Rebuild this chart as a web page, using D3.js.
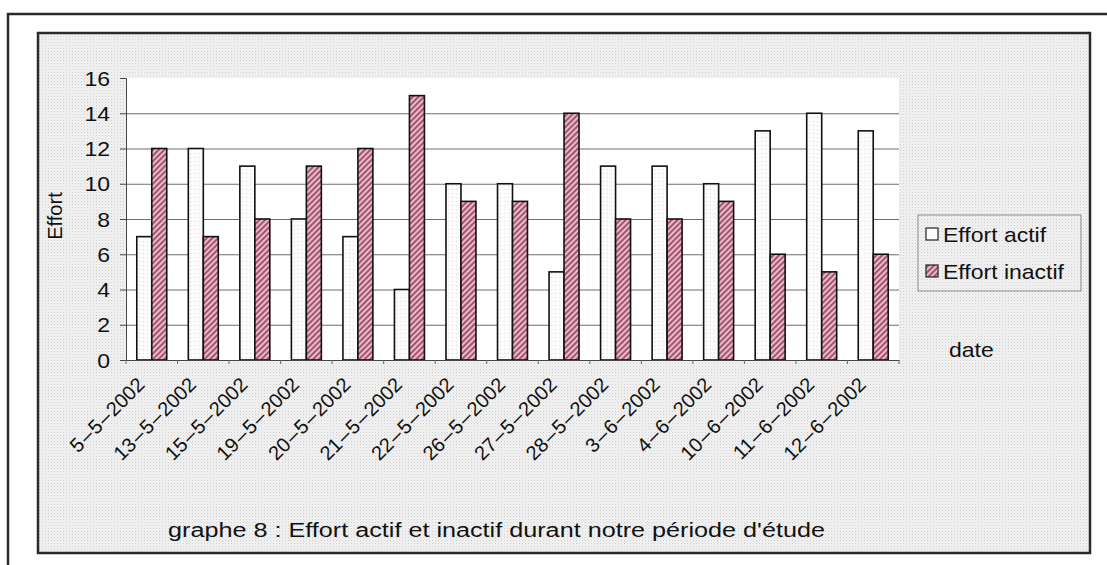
<!DOCTYPE html>
<html><head><meta charset="utf-8">
<script src="https://cdn.jsdelivr.net/npm/d3@7"></script>
<style>
html,body{margin:0;padding:0;background:#fff;}
svg{display:block;}
text{font-family:"Liberation Sans",Arial,sans-serif;fill:#111;}
</style></head>
<body>
<svg id="c" width="1107" height="565"></svg>
<script>
const categories = ["5 – 5 – 2002","13 – 5 – 2002","15 – 5 – 2002","19 – 5 – 2002","20 – 5 – 2002","21 – 5 – 2002","22 – 5 – 2002","26 – 5 – 2002","27 – 5 – 2002","28 – 5 – 2002","3 – 6 – 2002","4 – 6 – 2002","10 – 6 – 2002","11 – 6 – 2002","12 – 6 – 2002"];
const effortActif   = [7,12,11,8,7,4,10,10,5,11,11,10,13,14,13];
const effortInactif = [12,7,8,11,12,15,9,9,14,8,8,9,6,5,6];
const seriesNames = ["Effort actif","Effort inactif"];
const yTicks = [0,2,4,6,8,10,12,14,16];
const title = "graphe 8 : Effort actif et inactif durant notre période d'étude";
const yTitle = "Effort";
const xTitle = "date";

const SX = 1.15; // horizontal stretch of the scanned text
const svg = d3.select("#c");
const defs = svg.append("defs");

// background dotted texture
const bg = defs.append("pattern").attr("id","bgdots").attr("patternUnits","userSpaceOnUse").attr("width",3).attr("height",3);
bg.append("rect").attr("width",3).attr("height",3).attr("fill","#f2f2f2");
bg.append("rect").attr("x",0).attr("y",0).attr("width",1).attr("height",1).attr("fill","#cfcfcf");
bg.append("rect").attr("x",1.5).attr("y",1.5).attr("width",1).attr("height",1).attr("fill","#dedede");

// white bar texture (faint dots)
const wp = defs.append("pattern").attr("id","whitefill").attr("patternUnits","userSpaceOnUse").attr("width",4).attr("height",4);
wp.append("rect").attr("width",4).attr("height",4).attr("fill","#fdfbfc");
wp.append("rect").attr("x",1).attr("y",1).attr("width",1).attr("height",1).attr("fill","#e6d3da");

// hatched red texture
const hp = defs.append("pattern").attr("id","hatch").attr("patternUnits","userSpaceOnUse").attr("width",4).attr("height",4).attr("patternTransform","rotate(45)");
hp.append("rect").attr("width",4).attr("height",4).attr("fill","#e6bccb");
hp.append("rect").attr("x",0).attr("y",0).attr("width",2).attr("height",4).attr("fill","#a5536f");

// outer frame
svg.append("path").attr("d","M8,565 L8,14 L1107,14").attr("fill","none").attr("stroke","#2a2a2a").attr("stroke-width",2.5);
// inner chart area
svg.append("rect").attr("x",38).attr("y",33).attr("width",1052).attr("height",520)
  .attr("fill","url(#bgdots)").attr("stroke","#2a2a2a").attr("stroke-width",2.5);

const plot = {left:126, right:899, top:78, bottom:360};

const x = d3.scaleBand().domain(categories).range([plot.left, plot.right]).paddingInner(0).paddingOuter(0);
const xs = d3.scaleBand().domain(seriesNames).range([0, x.bandwidth()]).paddingInner(0).paddingOuter(0.72);
const y = d3.scaleLinear().domain([0,16]).range([plot.bottom, plot.top]);

// plot area background
svg.append("rect").attr("x",plot.left).attr("y",plot.top).attr("width",plot.right-plot.left).attr("height",plot.bottom-plot.top).attr("fill","#ffffff");

// gridlines
const grid = svg.append("g").attr("transform",`translate(${plot.left},0)`)
  .call(d3.axisLeft(y).tickValues(yTicks.filter(v=>v>0 && v<16)).tickSize(-(plot.right-plot.left)).tickFormat(""));
grid.select(".domain").remove();
grid.selectAll("line").attr("stroke","#6e6e6e").attr("stroke-width",1);

// bars
const rows = categories.map((c,i)=>({cat:c, vals:[{s:seriesNames[0], v:effortActif[i]},{s:seriesNames[1], v:effortInactif[i]}]}));
const g = svg.append("g");
const grp = g.selectAll("g.cat").data(rows).join("g").attr("class","cat").attr("transform",d=>`translate(${x(d.cat)},0)`);
grp.selectAll("rect").data(d=>d.vals).join("rect")
  .attr("x",d=>xs(d.s)).attr("width",xs.bandwidth())
  .attr("y",d=>y(d.v)).attr("height",d=>y(0)-y(d.v))
  .attr("fill",d=>d.s===seriesNames[0]?"url(#whitefill)":"url(#hatch)")
  .attr("stroke","#111").attr("stroke-width",1.6);

// y axis
const ya = svg.append("g").attr("transform",`translate(${plot.left},0)`)
  .call(d3.axisLeft(y).tickValues(yTicks).tickSize(6).tickPadding(9));
ya.select(".domain").attr("stroke","#444").attr("stroke-width",1);
ya.selectAll(".tick line").attr("stroke","#444");
ya.selectAll(".tick text").attr("font-size",20).attr("font-family","Liberation Sans, Arial, sans-serif").attr("fill","#111")
  .attr("x",0).attr("dy","0.36em").attr("transform",`translate(-16,0) scale(${SX},1)`);

// x axis
const xa = svg.append("g").attr("transform",`translate(0,${plot.bottom})`)
  .call(d3.axisBottom(x).tickSize(0).tickPadding(0).tickFormat(d=>d.replace(/ /g,"\u200A")));
xa.select(".domain").attr("stroke","#444").attr("stroke-width",1);
xa.selectAll(".tick text").attr("font-size",20).attr("font-family","Liberation Sans, Arial, sans-serif").attr("fill","#111")
  .attr("text-anchor","end").attr("y",0).attr("dy",0)
  .attr("transform","translate(-6,26) rotate(-45)");
// boundary ticks
const bounds = categories.map(c=>x(c)).concat([x.range()[1]]);
svg.append("g").selectAll("line").data(bounds).join("line")
  .attr("x1",d=>d).attr("x2",d=>d).attr("y1",plot.bottom).attr("y2",plot.bottom+4)
  .attr("stroke","#666").attr("stroke-width",1);

// axis titles
svg.append("text").attr("transform","translate(62,216) rotate(-90)").attr("text-anchor","middle")
  .attr("font-size",20).text(yTitle);
svg.append("text").attr("transform",`translate(949,357) scale(${SX},1)`).attr("font-size",20).text(xTitle);

// legend
const lg = svg.append("g");
lg.append("rect").attr("x",918).attr("y",215).attr("width",163).attr("height",76).attr("fill","none").attr("stroke","#8a8a8a").attr("stroke-width",1);
const li = lg.selectAll("g.li").data(seriesNames).join("g").attr("class","li")
  .attr("transform",(d,i)=>`translate(926,${235+i*37})`);
li.append("rect").attr("x",0).attr("y",-7).attr("width",12).attr("height",12)
  .attr("fill",(d,i)=>i===0?"#fdfbfc":"url(#hatch)").attr("stroke","#222").attr("stroke-width",1.2);
li.append("text").attr("transform",`translate(17,7) scale(${SX},1)`).attr("font-size",20).text(d=>d);

// title
svg.append("text").attr("transform",`translate(168,537) scale(1.2,1)`).attr("font-size",21).text(title);
</script>
</body></html>
